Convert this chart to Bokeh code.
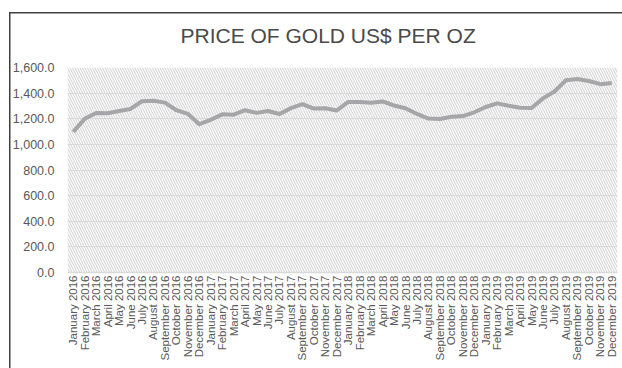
from bokeh.plotting import figure
from bokeh.models import FactorRange, Range1d, NumeralTickFormatter, BoxAnnotation, FixedTicker
from bokeh.embed import file_html
from bokeh.resources import INLINE

title_text = "PRICE OF GOLD US$ PER OZ"
months = ["January", "February", "March", "April", "May", "June", "July",
          "August", "September", "October", "November", "December"]
years = ["2016", "2017", "2018", "2019"]
categories = [f"{m} {y}" for y in years for m in months]

prices = [1097.9, 1199.5, 1245.1, 1242.3, 1260.9, 1276.4, 1336.7, 1340.2, 1326.0, 1266.6, 1238.4, 1157.4,
          1192.1, 1234.2, 1231.4, 1266.9, 1246.0, 1260.3, 1236.8, 1283.0, 1314.1, 1279.5, 1281.9, 1264.5,
          1331.3, 1330.7, 1324.7, 1334.8, 1303.5, 1282.0, 1237.7, 1201.7, 1198.4, 1215.4, 1220.7, 1250.4,
          1291.8, 1320.1, 1300.9, 1285.9, 1283.7, 1359.0, 1412.9, 1500.4, 1510.6, 1494.8, 1470.0, 1479.1]

y_ticks = [0, 200, 400, 600, 800, 1000, 1200, 1400, 1600]

p = figure(width=613, height=368, x_range=FactorRange(*categories, range_padding=0),
           y_range=Range1d(0, 1600), output_backend="svg", toolbar_location=None,
           title=title_text,
           min_border_left=58, min_border_right=5, min_border_top=67, min_border_bottom=96)
p.margin = (0, 0, 0, 9)
p.styles = {
    "background-image": "linear-gradient(#404040, #404040), linear-gradient(#404040, #404040)",
    "background-size": "100% 1.5px, 1.5px 100%",
    "background-position": "0 12px, 0 12px",
    "background-repeat": "no-repeat",
}

p.outline_line_color = None
p.background_fill_color = "white"
p.border_fill_color = None

p.title.text_font = "Liberation Sans"
p.title.text_font_style = "normal"
p.title.text_font_size = "21px"
p.title.text_color = "#4a4a4a"
p.title.align = "left"
p.title.offset = 113
p.title.standoff = 42

hatch = BoxAnnotation(level="underlay", fill_color=None, fill_alpha=0, line_color=None,
                      hatch_pattern="\\", hatch_color="#d8d8d8", hatch_scale=5, hatch_weight=1.2)
p.add_layout(hatch)

p.line(x=categories, y=prices, line_color="#a6a6a8", line_width=4, line_join="round")

p.yaxis.ticker = FixedTicker(ticks=y_ticks)
p.yaxis.formatter = NumeralTickFormatter(format="0,0.0")
p.yaxis.axis_line_color = None
p.yaxis.major_tick_line_color = None
p.yaxis.minor_tick_line_color = None
p.yaxis.major_label_text_font = "Liberation Sans"
p.yaxis.major_label_text_font_size = "12.5px"
p.yaxis.major_label_text_color = "#595959"
p.yaxis.major_label_standoff = 7

p.xaxis.axis_line_color = "#d9d9d9"
p.xaxis.axis_line_width = 1.5
p.xaxis.major_tick_line_color = None
p.xaxis.major_tick_out = 0
p.xaxis.major_tick_in = 0
p.xaxis.minor_tick_line_color = None
p.xaxis.major_label_orientation = 1.5708
p.xaxis.major_label_text_font = "Liberation Sans"
p.xaxis.major_label_text_font_size = "11.5px"
p.xaxis.major_label_text_color = "#595959"
p.xaxis.major_label_standoff = 3

p.xgrid.grid_line_color = None
p.ygrid.grid_line_color = "#d9d9d9"
p.ygrid.grid_line_width = 1

open("out.html", "w").write(file_html(p, INLINE))
